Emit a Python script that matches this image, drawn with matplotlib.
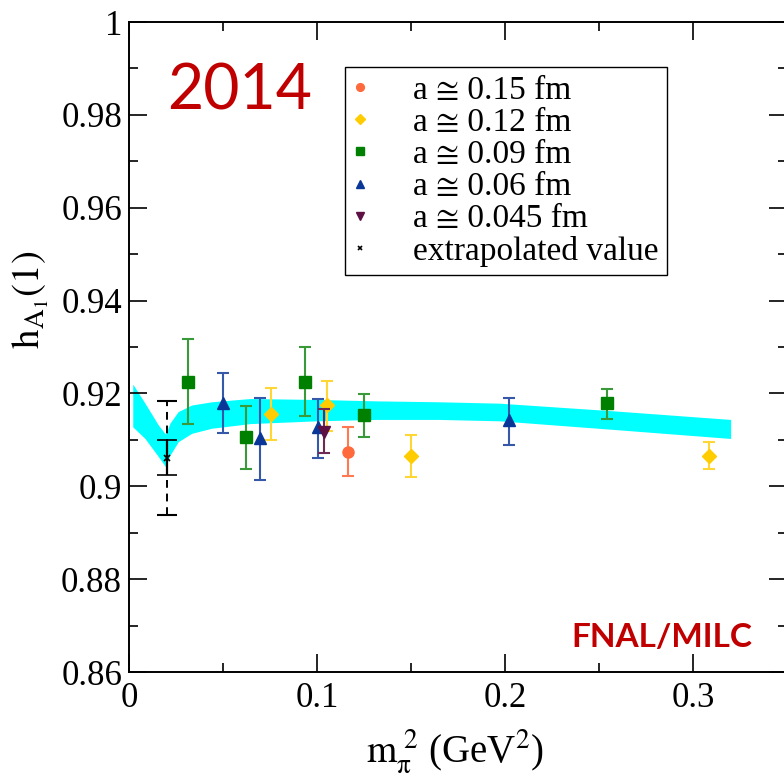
import matplotlib
matplotlib.use("Agg")
import matplotlib.pyplot as plt
import numpy as np

# ---------------- data ----------------
x_015 = [0.1167]
y_015 = [0.9074]
lo_015 = [0.9022]
hi_015 = [0.9127]

x_012 = [0.0754, 0.1052, 0.1498, 0.3084]
y_012 = [0.9156, 0.9175, 0.9065, 0.9065]
lo_012 = [0.9100, 0.9120, 0.9020, 0.9037]
hi_012 = [0.9212, 0.9227, 0.9110, 0.9095]

x_009 = [0.0314, 0.0622, 0.0934, 0.1252, 0.2541]
y_009 = [0.9225, 0.9106, 0.9225, 0.9154, 0.9179]
lo_009 = [0.9134, 0.9037, 0.9151, 0.9107, 0.9146]
hi_009 = [0.9317, 0.9174, 0.9300, 0.9199, 0.9210]

x_006 = [0.0502, 0.0697, 0.1005, 0.2019]
y_006 = [0.9179, 0.9103, 0.9127, 0.9143]
lo_006 = [0.9115, 0.9014, 0.9061, 0.9089]
hi_006 = [0.9245, 0.9190, 0.9189, 0.9191]

x_0045 = [0.1039]
y_0045 = [0.9116]
lo_0045 = [0.9072]
hi_0045 = [0.9166]

x_ext = [0.020]
y_ext = [0.9062]
lo_ext_stat = [0.9024]
hi_ext_stat = [0.9099]
lo_ext_tot = [0.8938]
hi_ext_tot = [0.9184]

band_x = [0.002, 0.0085, 0.0156, 0.0195, 0.0218, 0.0262, 0.0333, 0.044,
          0.0644, 0.100, 0.131, 0.165, 0.197, 0.256, 0.320]
band_hi = [0.9220, 0.9179, 0.9132, 0.9112, 0.9136, 0.9161, 0.9175, 0.9182,
           0.9189, 0.9187, 0.9184, 0.9182, 0.9179, 0.9163, 0.9144]
band_lo = [0.9128, 0.9103, 0.9064, 0.9042, 0.9067, 0.9096, 0.9114, 0.9125,
           0.9135, 0.9141, 0.9144, 0.9144, 0.9141, 0.9123, 0.9103]

x_ticks = [0, 0.1, 0.2, 0.3]
x_ticklabels = ["0", "0.1", "0.2", "0.3"]
y_ticks = [0.86, 0.88, 0.90, 0.92, 0.94, 0.96, 0.98, 1.00]
y_ticklabels = ["0.86", "0.88", "0.9", "0.92", "0.94", "0.96", "0.98", "1"]

labels = ["a \u2245 0.15 fm", "a \u2245 0.12 fm", "a \u2245 0.09 fm",
          "a \u2245 0.06 fm", "a \u2245 0.045 fm", "extrapolated value"]

# ---------------- style ----------------
plt.rcParams["font.family"] = ["Liberation Serif", "STIXGeneral", "DejaVu Sans"]
plt.rcParams["mathtext.fontset"] = "stix"

fig = plt.figure(figsize=(7.84, 7.74), dpi=100)
ax = fig.add_axes([129/784, (774-672)/774, (787-129)/784, (672-22)/774])

ax.fill_between(band_x, band_lo, band_hi, color="#00ffff", lw=0, zorder=1)

handles = []


def err(ax, x, y, lo, hi, color, ecolor, marker, ms, label, z=3):
    y = np.array(y); lo = np.array(lo); hi = np.array(hi)
    c = ax.errorbar(x, y, yerr=[y - lo, hi - y], fmt=marker, color=color,
                    ecolor=ecolor, ms=ms, mec=color, elinewidth=1.5,
                    capsize=4.5, capthick=1.5, label=label, zorder=z)
    handles.append(c[0])


err(ax, x_015, y_015, lo_015, hi_015, "#ff6a3d", "#ff7a50", "o", 8, labels[0])
err(ax, x_012, y_012, lo_012, hi_012, "#ffcc00", "#ffd633", "D", 7, labels[1])
err(ax, x_009, y_009, lo_009, hi_009, "#008000", "#3a9a3a", "s", 8.5, labels[2])
err(ax, x_006, y_006, lo_006, hi_006, "#0a3797", "#3558a8", "^", 9, labels[3])
err(ax, x_0045, y_0045, lo_0045, hi_0045, "#5e1044", "#6e2a55", "v", 9, labels[4], z=4)

# extrapolated value
ye = np.array(y_ext)
eb2 = ax.errorbar(x_ext, y_ext, yerr=[ye - np.array(lo_ext_tot), np.array(hi_ext_tot) - ye],
                  fmt="none", ecolor="black", elinewidth=1.4, capsize=7, capthick=1.5, zorder=5)
eb2[2][0].set_linestyle((0, (4, 3)))
c = ax.errorbar(x_ext, y_ext, yerr=[ye - np.array(lo_ext_stat), np.array(hi_ext_stat) - ye],
                fmt="x", color="black", ms=5, mew=1.2, elinewidth=1.6, capsize=7,
                capthick=1.5, label=labels[5], zorder=6)
handles.append(c[0])

ax.set_xlim(0, 0.35)
ax.set_ylim(0.86, 1.0)
ax.set_xticks(x_ticks)
ax.set_xticklabels(x_ticklabels)
ax.set_yticks(y_ticks)
ax.set_yticklabels(y_ticklabels)
ax.set_xticks(np.arange(0.05, 0.35, 0.1), minor=True)
ax.set_yticks(np.arange(0.87, 1.0, 0.02), minor=True)
ax.tick_params(which="both", direction="in", top=True, right=True, labelsize=25, width=1.2)
ax.tick_params(which="major", length=13.3)
ax.tick_params(axis="y", which="major", pad=5)
ax.tick_params(axis="x", which="major", pad=7)
ax.tick_params(which="minor", length=6.5)
for s in ax.spines.values():
    s.set_linewidth(1.4)

ax.set_xlabel(r"$\mathrm{m_{\pi}^{\ 2}}$ (GeV$^{2}$)", fontsize=28)
ax.set_ylabel(r"$\mathrm{h_{A_1}(1)}$", fontsize=28)
ax.xaxis.set_label_coords(0.495, -0.085)
ax.yaxis.set_label_coords(-0.118, 0.572)

leg = ax.legend(handles, labels, loc="upper left", bbox_to_anchor=(0.328, 0.931),
                fontsize=24, frameon=True, fancybox=False, edgecolor="black",
                framealpha=1, borderpad=0.25, labelspacing=0.05, handlelength=0.4,
                handletextpad=1.4, markerscale=0.7, borderaxespad=0)
leg.get_frame().set_linewidth(1.0)

ax.text(167, 774 - 110, "2014", transform=None, fontsize=45, color="#c00000",
        family="Lato", ha="left", va="baseline")
ax.text(752, 774 - 647, "FNAL/MILC", transform=None, fontsize=24, color="#c00000",
        family="Lato", fontweight="bold", ha="right", va="baseline")

fig.savefig("out.png", dpi=100)
